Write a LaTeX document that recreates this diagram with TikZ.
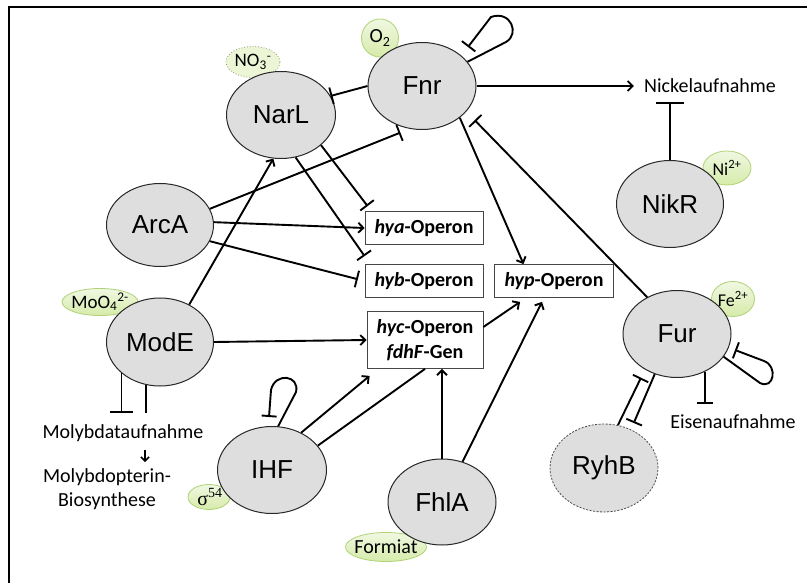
\documentclass[tikz,border=0pt]{standalone}
\usepackage{fontspec}
\setmainfont{Carlito}
\newfontfamily\arialf{Liberation Sans}
\newfontfamily\timesf{Liberation Serif}
\usetikzlibrary{arrows.meta,shapes.geometric,calc}
\definecolor{protgray}{RGB}{222,222,222}
\definecolor{protline}{RGB}{40,40,40}
\definecolor{greentop}{RGB}{240,248,226}
\definecolor{greenbot}{RGB}{214,235,170}
\definecolor{greenline}{RGB}{176,210,118}
\definecolor{dotgreen}{RGB}{236,246,214}
\definecolor{dotline}{RGB}{140,160,110}
\definecolor{boxline}{RGB}{70,70,70}
\begin{document}
\begin{tikzpicture}[x=1pt,y=-1pt,
  prot/.style={ellipse, draw=protline, line width=1pt, fill=protgray,
    minimum width=108pt, minimum height=87pt, inner sep=0pt,
    font=\arialf\fontsize{26}{30}\selectfont},
  smallbg/.style={ellipse, draw=greenline, line width=0.8pt, top color=greentop,
    bottom color=greenbot, inner sep=0pt},
  smalltxt/.style={inner sep=0pt, font=\fontsize{20}{22}\selectfont},
  opbox/.style={rectangle, draw=boxline, line width=0.8pt, fill=white, inner sep=0pt,
    font=\bfseries\fontsize{20}{25}\selectfont, align=center},
  lbl/.style={inner sep=0pt, font=\fontsize{20}{24}\selectfont, align=center},
  act/.style={line width=1.9pt, -{Straight Barb[length=5pt,width=10pt]}},
  inh/.style={line width=1.9pt, -{Bar[width=17pt]}},
  plainline/.style={line width=1.9pt},
]
\useasboundingbox (0,0) rectangle (807,583);
\fill[white] (0,0) rectangle (807,583);
% frame
\draw[line width=2.4pt] (9,583) -- (9,7) -- (807,7);

% small ligand ovals (backgrounds)
\node[smallbg, minimum width=37pt, minimum height=38pt] (o2bg) at (380,38) {};
\node[ellipse, draw=dotline, dotted, line width=0.8pt, fill=dotgreen, inner sep=0pt,
  minimum width=54pt, minimum height=31pt] (no3bg) at (253,62) {};
\node[smallbg, minimum width=76pt, minimum height=27pt] (moobg) at (100,302) {};
\node[smallbg, minimum width=42pt, minimum height=25pt] (sigbg) at (209,497) {};
\node[smallbg, minimum width=81pt, minimum height=29pt] (formbg) at (386,547) {};
\node[smallbg, minimum width=48pt, minimum height=34pt] (nibg) at (727,168) {};
\node[smallbg, minimum width=43pt, minimum height=35pt] (febg) at (733,299) {};

% proteins
\node[prot] (Fnr) at (422,86) {Fnr};
\node[prot, minimum width=109pt] (NarL) at (281,115) {NarL};
\node[prot, minimum width=107pt, minimum height=83pt] (ArcA) at (160,225) {ArcA};
\node[prot, minimum width=107pt, minimum height=88pt] (ModE) at (160,342) {ModE};
\node[prot, minimum width=109pt] (IHF) at (272,470) {IHF};
\node[prot, minimum height=86pt] (FhlA) at (442,502) {FhlA};
\node[prot, minimum width=107pt] (NikR) at (670,204) {NikR};
\node[prot] (Fur) at (677,334) {Fur};
\node[prot, draw=black!70, line width=0.8pt, dash pattern=on 2pt off 1.5pt, minimum height=88pt] (RyhB) at (604,468) {RyhB};

% operon boxes
\node[opbox, minimum width=118pt, minimum height=33pt] (hya) at (424,228) {\textit{hya}-Operon};
\node[opbox, minimum width=118pt, minimum height=33pt] (hyb) at (424,281) {\textit{hyb}-Operon};
\node[opbox, minimum width=119pt, minimum height=33pt] (hyp) at (554,281) {\textit{hyp}-Operon};
\node[opbox, minimum width=116pt, minimum height=57pt] (hyc) at (425,340) {\textit{hyc}-Operon\\\textit{fdhF}-Gen};

% process labels
\node[lbl, anchor=base] (Nick) at (710,93) {Nickelaufnahme};
\node[lbl, anchor=base] (Eisen) at (733,428) {Eisenaufnahme};
\node[lbl, anchor=base] (Molyb) at (123,438) {Molybdataufnahme};
\node[lbl, anchor=base] (MolyB) at (107,506) {Molybdopterin-\\Biosynthese};

% ligand texts
\node[smalltxt] (o2) at (o2bg) {O\textsubscript{2}};
\node[smalltxt, font=\fontsize{19}{22}\selectfont] (no3) at (no3bg) {NO\textsubscript{3}\textsuperscript{-}};
\node[smalltxt, font=\fontsize{19}{22}\selectfont] (moo) at (moobg) {MoO\textsubscript{4}\textsuperscript{2-}};
\node[smalltxt] (sig) at ([xshift=1pt]sigbg) {\timesf σ\textsuperscript{54}};
\node[smalltxt] (form) at (formbg) {Formiat};
\node[smalltxt, font=\fontsize{18}{20}\selectfont] (ni) at (nibg) {Ni\textsuperscript{2+}};
\node[smalltxt, font=\fontsize{18}{20}\selectfont] (fe) at (febg) {Fe\textsuperscript{2+}};

% Fnr edges
\draw[inh] (Fnr.west) -- (NarL.21);
\draw[inh] (Fnr.28) -- (506,42) .. controls (520,34) and (511,10) .. (491,17) -- (468,47);
\draw[act, shorten >=10pt] (Fnr.east) -- (Fnr.east -| Nick.west);
\draw[act] (Fnr.-40) -- (hyp.151);
% NikR
\draw[inh, -{Bar[width=28pt]}] (NikR.north) -- ++(0,-58);
% Fur
\draw[inh, shorten >=12pt] (Fur.129) -- (Fnr.-30);
\draw[inh] (Fur.-26) -- (760,383) .. controls (774,390) and (778,366) .. (764,361) -- (735,350);
\draw[inh, -{Bar[width=16pt]}] (Fur.-54) -- ++(0,32);
\draw[inh, shorten >=9pt] (RyhB.72) -- (Fur.-132);
\draw[inh, shorten >=7pt] (Fur.-119) -- (RyhB.55);
% ArcA
\draw[inh, shorten >=10pt] (ArcA.18) -- (Fnr.-106);
\draw[act] (ArcA.3) -- (hya.west);
\draw[inh, shorten >=7pt] (ArcA.-18) -- (hyb.west);
% NarL
\draw[inh] (NarL.-37) -- ($(hya.north west)+(3,-5)$);
\draw[inh] (NarL.-71) -- ($(hyb.north west)+(0,-8)$);
% ModE
\draw[act] (ModE.52) -- (NarL.-100);
\draw[act] (ModE.east) -- (hyc.west);
\draw[inh, -{Bar[width=23pt]}] (ModE.-141) -- ++(0,40);
\draw[plainline] (ModE.-108) -- ++(0,28.5);
\draw[line width=1.5pt, -{Straight Barb[length=4pt,width=8pt]}] ($(Molyb.base)+(22,12)$) -- ($(Molyb.base)+(22,24)$);
% IHF
\draw[inh, -{Bar[width=15pt]}] (IHF.82) -- (296,392) .. controls (300,375) and (275,372) .. (271,390) -- (269,417);
\draw[act] (IHF.52) -- ($(hyc.south west)+(3,7)$);
\draw[plainline] (IHF.28) -- (hyc.south);
% FhlA
\draw[act] (FhlA.north) -- (FhlA.north |- hyc.south);
\draw[act] (FhlA.63) -- ($(hyp.south)+(-12,4)$);
% hyc -> hyp
\draw[act] ($(hyc.east)+(0,-13)$) -- ($(hyp.south west)+(26,4)$);
\end{tikzpicture}
\end{document}
